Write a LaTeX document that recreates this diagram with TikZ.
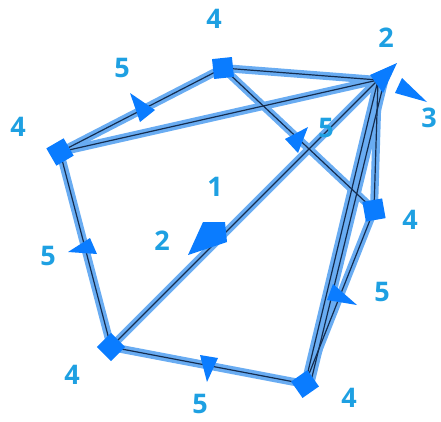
\documentclass[tikz,border=0pt]{standalone}
\usepackage{fontspec}
\setmainfont{Open Sans}
\definecolor{halo}{RGB}{105,172,242}
\definecolor{core}{RGB}{20,45,80}
\definecolor{mk}{RGB}{10,124,255}
\definecolor{lab}{RGB}{30,160,226}
\begin{document}
\begin{tikzpicture}[x=1pt,y=-1pt,
  halostyle/.style={draw=halo,line width=8pt},
  corestyle/.style={draw=core,line width=1.2pt},
  sqmark/.style={fill=mk,draw=none,minimum size=20pt,inner sep=0pt,shape=rectangle},
  tri/.style={fill=mk,draw=none},
  lbl/.style={text=lab,font=\bfseries\fontsize{27}{27}\selectfont,inner sep=0pt}]
\useasboundingbox (0,0) rectangle (441,421);
% vertices
\coordinate (A) at (223,68);
\coordinate (B) at (378,80);
\coordinate (B2) at (384,82);
\coordinate (C) at (60,152);
\coordinate (D) at (374,210);
\coordinate (E) at (111,347);
\coordinate (F) at (305,384);
\coordinate (F2) at (311,381);
% edges: halos then cores
\foreach \a/\b in {C/A,C/B,A/B,A/D,B/E,B/D,B/F,B2/F2,D/F,C/E,E/F}
  \draw[halostyle] (\a) -- (\b);
\foreach \a/\b in {C/A,C/B,A/B,A/D,B/E,B/D,B/F,B2/F2,D/F,C/E,E/F}
  \draw[corestyle] (\a) -- (\b);
% vertex markers
\node[sqmark,rotate=6] (mA) at (A) {};
\node[sqmark,rotate=30] (mC) at (C) {};
\node[sqmark,rotate=10] (mD) at (D) {};
\node[sqmark,rotate=45] (mE) at (E) {};
\node[sqmark,rotate=35] (mF) at (F) {};
% arrow markers
\fill[tri] (370,75) -- (397,63) -- (383,93) -- cycle;
\fill[tri] (402,78) -- (395,93) -- (427,102) -- cycle;
\fill[tri] (203,222) -- (225,222) -- (227,242) -- (188,255) -- cycle;
\fill[tri] (130,93) -- (155,110) -- (140,122) -- cycle;
\fill[tri] (308,127) -- (285,139) -- (298,153) -- cycle;
\fill[tri] (90,238) -- (97,254) -- (68,252) -- cycle;
\fill[tri] (333,284) -- (357,305) -- (327,300) -- cycle;
\fill[tri] (200,355) -- (218,358) -- (207,382) -- cycle;
% labels
\node[lbl] (l1) at (214,19) {4};
\node[lbl] (l2) at (386,38) {2};
\node[lbl] (l3) at (122,68) {5};
\node[lbl] (l4) at (18,127) {4};
\node[lbl] (l5) at (429,118) {3};
\node[lbl] (l6) at (326,128) {5};
\node[lbl] (l7) at (215,187) {1};
\node[lbl] (l8) at (162,241) {2};
\node[lbl] (l9) at (410,220) {4};
\node[lbl] (l10) at (48,256) {5};
\node[lbl] (l11) at (382,292) {5};
\node[lbl] (l12) at (72,375) {4};
\node[lbl] (l13) at (200,404) {5};
\node[lbl] (l14) at (349,398) {4};
\end{tikzpicture}
\end{document}
